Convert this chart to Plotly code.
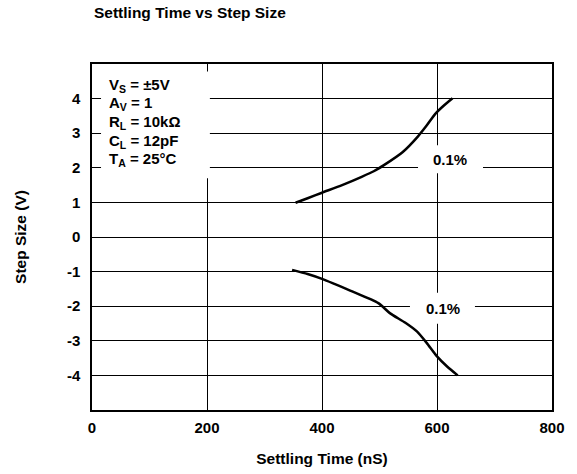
import plotly.graph_objects as go

# Data
upper_time = [354, 375, 400, 435, 469, 490, 507, 540, 567, 582, 597, 612, 627]
upper_step = [0.99, 1.12, 1.28, 1.50, 1.74, 1.90, 2.07, 2.45, 2.91, 3.22, 3.56, 3.80, 4.01]
lower_time = [348, 375, 400, 449, 498, 518, 545, 565, 582, 600, 618, 636]
lower_step = [-0.95, -1.07, -1.21, -1.55, -1.91, -2.20, -2.48, -2.73, -3.06, -3.45, -3.75, -4.00]

x_ticks = [0, 200, 400, 600, 800]
y_ticks = [-4, -3, -2, -1, 0, 1, 2, 3, 4]

conditions = ["V<sub>S</sub> = ±5V", "A<sub>V</sub> = 1", "R<sub>L</sub> = 10kΩ",
              "C<sub>L</sub> = 12pF", "T<sub>A</sub> = 25°C"]
curve_label = "0.1%"

FONT = "Liberation Sans, Arial, sans-serif"
W, H = 577, 474
L, R, T, B = 92, 25, 64, 64
PH = H - T - B


def py(pix):
    """pixel row -> paper y"""
    return 1 - (pix - T) / PH


fig = go.Figure()
for xs, ys in [(upper_time, upper_step), (lower_time, lower_step)]:
    fig.add_trace(go.Scatter(x=xs, y=ys, mode="lines",
                             line=dict(color="black", width=2.5, shape="spline", smoothing=0.6),
                             showlegend=False, hoverinfo="skip"))

# white boxes that interrupt the grid behind the labels
for x0, x1, y0, y1 in [(15.7, 205, 1.70, 4.78), (567, 680, 1.84, 2.65), (553, 666, -2.51, -1.61)]:
    fig.add_shape(type="rect", xref="x", yref="y", x0=x0, x1=x1, y0=y0, y1=y1,
                  fillcolor="white", line=dict(width=0), layer="between")

# condition lines
for i, txt in enumerate(conditions):
    fig.add_annotation(x=(107 - L) / (W - L - R), y=py(85 + 18.7 * i), xref="paper", yref="paper",
                       xanchor="left", yanchor="middle", text=f"<b>{txt}</b>", showarrow=False,
                       font=dict(family=FONT, size=15, color="black"))

fig.add_annotation(x=623, y=2.25, xref="x", yref="y", text=f"<b>{curve_label}</b>",
                   showarrow=False, font=dict(family=FONT, size=15, color="black"))
fig.add_annotation(x=610, y=-2.06, xref="x", yref="y", text=f"<b>{curve_label}</b>",
                   showarrow=False, font=dict(family=FONT, size=15, color="black"))

fig.update_layout(
    width=W, height=H,
    margin=dict(l=L, r=R, t=T, b=B, autoexpand=False),
    paper_bgcolor="white", plot_bgcolor="white",
    font=dict(family=FONT, size=15, color="black"),
    title=dict(text="<b>Settling Time vs Step Size</b>", x=94 / W, xanchor="left",
               y=1 - 13 / H, yanchor="middle", font=dict(family=FONT, size=15.5, color="black")),
    xaxis=dict(range=[0, 800], tickvals=x_ticks, ticktext=[f"<b>{v}</b>" for v in x_ticks],
               showgrid=True, gridcolor="black", gridwidth=1,
               showline=True, linecolor="black", linewidth=1.5, mirror=True,
               zeroline=False, ticks="", ticklabelstandoff=3, automargin=False,
               tickfont=dict(family=FONT, size=15),
               title=dict(text="<b>Settling Time (nS)</b>", standoff=18,
                          font=dict(family=FONT, size=15.5))),
    yaxis=dict(range=[-5, 5], tickvals=y_ticks, ticktext=[f"<b>{v}</b>" for v in y_ticks],
               showgrid=True, gridcolor="black", gridwidth=1,
               showline=True, linecolor="black", linewidth=1.5, mirror=True,
               zeroline=False, ticks="", ticklabelstandoff=7, automargin=False,
               tickfont=dict(family=FONT, size=15),
               title=dict(text="<b>Step Size (V)</b>", standoff=36,
                          font=dict(family=FONT, size=15.5))),
)

fig.write_html("out.html", config={"displayModeBar": False},
               post_script="document.body.style.margin='0';")
